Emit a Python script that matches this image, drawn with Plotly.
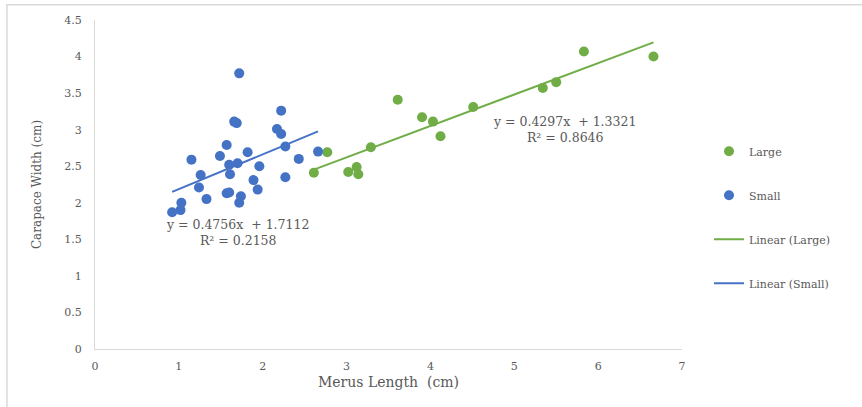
import numpy as np
import plotly.graph_objects as go

# ---- data ----
small_x = [1.72, 2.22, 1.66, 1.69, 2.17, 2.22, 1.57, 2.27, 1.82, 1.49, 1.15, 2.43, 2.66,
           1.60, 1.70, 1.96, 1.26, 1.61, 2.27, 1.89, 1.24, 1.94, 1.57, 1.60, 1.74, 1.33,
           1.72, 1.03, 0.92, 1.02]
small_y = [3.77, 3.26, 3.11, 3.09, 3.01, 2.94, 2.79, 2.77, 2.69, 2.64, 2.59, 2.60, 2.70,
           2.52, 2.54, 2.50, 2.38, 2.39, 2.35, 2.31, 2.21, 2.18, 2.13, 2.14, 2.09, 2.05,
           2.00, 2.00, 1.87, 1.90]

large_x = [2.61, 2.77, 3.02, 3.12, 3.14, 3.29, 3.61, 3.90, 4.03, 4.12, 4.51, 5.34, 5.50, 5.83, 6.66]
large_y = [2.41, 2.69, 2.42, 2.49, 2.39, 2.76, 3.41, 3.17, 3.11, 2.91, 3.31, 3.57, 3.65, 4.07, 4.00]

# trendline coefficients as printed on the chart
small_fit = {"slope": 0.4756, "intercept": 1.7112, "r2": 0.2158}
large_fit = {"slope": 0.4297, "intercept": 1.3321, "r2": 0.8646}

x_ticks = [0, 1, 2, 3, 4, 5, 6, 7]
y_ticks = [0, 0.5, 1, 1.5, 2, 2.5, 3, 3.5, 4, 4.5]

GREEN = "#70AD47"
BLUE = "#4472C4"
TXT = "#595959"
FONT = "DejaVu Serif"


def fit_line(xs, fit):
    xx = np.array([min(xs), max(xs)])
    return xx, fit["slope"] * xx + fit["intercept"]


fig = go.Figure()
fig.add_trace(go.Scatter(x=large_x, y=large_y, mode="markers", name="Large",
                         marker=dict(color=GREEN, size=10), legendgroup="a"))
fig.add_trace(go.Scatter(x=small_x, y=small_y, mode="markers", name="Small",
                         marker=dict(color=BLUE, size=10), legendgroup="b"))
lx, ly = fit_line(large_x, large_fit)
fig.add_trace(go.Scatter(x=lx, y=ly, mode="lines", name="Linear (Large)",
                         line=dict(color=GREEN, width=2), legendgroup="c"))
sx, sy = fit_line(small_x, small_fit)
fig.add_trace(go.Scatter(x=sx, y=sy, mode="lines", name="Linear (Small)",
                         line=dict(color=BLUE, width=2), legendgroup="d"))

def eq_text(fit):
    return f"y = {fit['slope']:.4f}x  + {fit['intercept']:.4f}<br>R² = {fit['r2']:.4f}"

annos = [
    dict(x=1.70, y=1.59, text=eq_text(small_fit)),
    dict(x=5.6, y=3.0, text=eq_text(large_fit)),
]

fig.update_layout(
    width=862, height=407,
    margin=dict(l=95, r=180, t=20, b=58),
    paper_bgcolor="white", plot_bgcolor="white",
    font=dict(family=FONT, color=TXT, size=11),
    showlegend=True,
    legend=dict(x=1.046, y=0.645, xanchor="left", yanchor="top",
                font=dict(family=FONT, size=11, color=TXT),
                tracegroupgap=25, bgcolor="rgba(0,0,0,0)"),
    xaxis=dict(range=[0, 7], tickvals=x_ticks, showgrid=False, zeroline=False,
               showline=True, linecolor="#D9D9D9", linewidth=1, ticks="",
               ticklabelstandoff=7,
               tickfont=dict(family=FONT, size=11, color=TXT),
               title=dict(text="Merus Length  (cm)", font=dict(family=FONT, size=14, color=TXT),
                          standoff=4)),
    yaxis=dict(range=[0, 4.5], tickvals=y_ticks, showgrid=False, zeroline=False,
               showline=True, linecolor="#D9D9D9", linewidth=1, ticks="",
               ticklabelstandoff=10,
               tickfont=dict(family=FONT, size=11, color=TXT),
               title=dict(text="Carapace Width (cm)", font=dict(family=FONT, size=12, color=TXT),
                          standoff=20)),
    shapes=[dict(type="rect", xref="paper", yref="paper",
                 x0=-0.150, x1=1.31, y0=-0.2, y1=1.046,
                 line=dict(color="#D9D9D9", width=1.5), layer="below")],
)
for a in annos:
    fig.add_annotation(x=a["x"], y=a["y"], text=a["text"], showarrow=False,
                       font=dict(family=FONT, size=12.5, color=TXT), align="center")

fig.write_html("out.html", config={"displayModeBar": False},
               post_script="document.body.style.margin='0';")
